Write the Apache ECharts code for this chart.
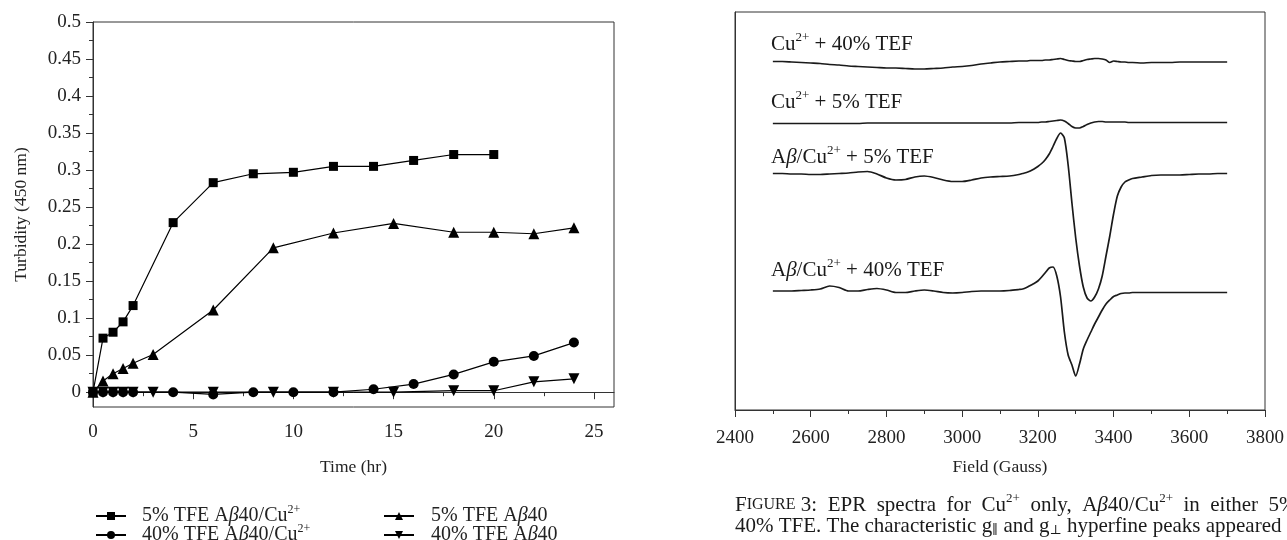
<!DOCTYPE html>
<html lang="en">
<head>
<meta charset="UTF-8">
<title>Turbidity / EPR</title>
<script src="https://cdn.jsdelivr.net/npm/echarts@6/dist/echarts.min.js"></script>
<style>
  html, body { margin: 0; padding: 0; background: #fff; }
  #main { width: 1287px; height: 540px; }
</style>
</head>
<body>
<div id="main"></div>
<script>
// --- left panel: turbidity (450 nm) vs time (hr) ---
var tSquare = [0, 0.5, 1, 1.5, 2, 4, 6, 8, 10, 12, 14, 16, 18, 20];
var ySquare = [0, 0.073, 0.081, 0.095, 0.117, 0.229, 0.283, 0.295, 0.297, 0.305, 0.305, 0.313, 0.321, 0.321];
var tUp = [0, 0.5, 1, 1.5, 2, 3, 6, 9, 12, 15, 18, 20, 22, 24];
var yUp = [0, 0.015, 0.025, 0.032, 0.039, 0.051, 0.111, 0.195, 0.215, 0.228, 0.216, 0.216, 0.214, 0.222];
var tCircle = [0, 0.5, 1, 1.5, 2, 4, 6, 8, 10, 12, 14, 16, 18, 20, 22, 24];
var yCircle = [0, 0, 0, 0, 0, 0, -0.003, 0, 0, 0, 0.004, 0.011, 0.024, 0.041, 0.049, 0.067];
var tDown = [0, 0.5, 1, 1.5, 2, 3, 6, 9, 12, 15, 18, 20, 22, 24];
var yDown = [0, 0, 0, 0, 0, 0, 0, 0, 0, 0, 0.002, 0.002, 0.014, 0.018];

var timeTicks = [0, 5, 10, 15, 20, 25];
var timeMinor = [2.5, 7.5, 12.5, 17.5, 22.5];
var turbTicks = [0, 0.05, 0.1, 0.15, 0.2, 0.25, 0.3, 0.35, 0.4, 0.45, 0.5];
var turbMinor = [0.025, 0.075, 0.125, 0.175, 0.225, 0.275, 0.325, 0.375, 0.425, 0.475];

// --- right panel: EPR spectra, stacked traces (arbitrary units) ---
var fieldG = [2500, 2525, 2550, 2575, 2600, 2625, 2650, 2675, 2700, 2725, 2750, 2775, 2800, 2825,
  2850, 2875, 2900, 2925, 2950, 2975, 3000, 3025, 3050, 3075, 3100, 3125, 3150,
  3160, 3170, 3180, 3190, 3200, 3210, 3220, 3230, 3240, 3250, 3260, 3270, 3280, 3290, 3300,
  3310, 3320, 3330, 3340, 3350, 3360, 3370, 3380, 3390, 3400, 3410, 3420, 3430, 3440, 3450,
  3475, 3500, 3525, 3550, 3575, 3600, 3625, 3650, 3675, 3700];
var eprCu40 = [350.5, 350.5, 350, 349.5, 349, 348.5, 347.5, 347, 346, 345.5, 345, 344.5, 344, 344,
  343.5, 343, 343, 343.5, 344, 345, 345.5, 346.5, 348, 349, 350, 350.5, 351,
  351, 351, 351.5, 351.5, 351.5, 351.5, 352, 352, 352.5, 353, 353.5, 352.5, 351.5, 351, 350.5,
  350.5, 351.5, 352.5, 353, 353.5, 353.5, 353, 352, 349.5, 351, 350.5, 350, 350, 349.5, 349.5,
  349, 349.5, 349.5, 349.5, 350, 350, 350, 350, 350, 350];
var eprCu5 = [288.5, 288.5, 288.5, 288.5, 288.5, 288.5, 288.5, 288.5, 288.5, 288.5, 289, 289, 289, 289,
  289, 289, 289, 289, 289, 289, 289, 289, 289, 289, 289, 289, 289.5,
  289.5, 289.5, 289.5, 289.5, 289.5, 290, 290, 290.5, 291, 291.5, 292, 291, 288.5, 285.5, 284,
  284, 285.5, 287.5, 289, 290, 290.5, 290.5, 290, 290, 290, 290, 290, 290, 289.5, 289.5,
  289.5, 289.5, 289.5, 289.5, 289.5, 289.5, 289.5, 289.5, 289.5, 289.5];
var eprAb5 = [238.5, 238.5, 238, 238, 237.5, 237.5, 238, 238.5, 239, 240, 240.5, 238, 234, 232,
  232.5, 235, 236, 234.5, 232, 230.5, 230.5, 232, 234, 235, 235.5, 236, 237.5,
  238.5, 239.5, 241, 243, 245.5, 248.5, 252.5, 258, 265.5, 273.5, 279, 274, 247, 209, 174,
  146, 125, 114, 111, 115, 123, 136, 156, 176, 198, 216, 225, 230, 232, 233.5,
  235, 236.5, 237, 237, 237, 237.5, 238, 238, 238.5, 238.5];
var eprAb40 = [121, 121, 121, 121.5, 122, 123, 126, 124.5, 121, 121, 122.5, 123.5, 122, 119.5,
  119.5, 121, 122, 121, 119.5, 119, 119.5, 120.5, 121, 121, 121, 121.5, 122.5,
  123, 124.5, 126.5, 128.5, 131, 135, 139.5, 144, 145, 136, 115, 80, 57, 47, 36,
  48, 63, 72, 80, 88, 95, 102, 108, 112, 115.5, 117, 118.5, 119, 119, 119.5,
  119.5, 119.5, 119.5, 119.5, 119.5, 119.5, 119.5, 119.5, 119.5, 119.5];
var eprLabels = ['Cu{sup|2+} + 40% TEF', 'Cu{sup|2+} + 5% TEF',
  'A{it|β}/Cu{sup|2+} + 5% TEF', 'A{it|β}/Cu{sup|2+} + 40% TEF'];

var serif = '"Liberation Serif", "DejaVu Serif", serif';
var ink = '#1a1a1a';

function richFor(size, lh) {
  var sup = Math.round(size * 0.62);
  return {
    sup: { fontSize: sup, fontFamily: serif, lineHeight: lh, padding: [0, 0, Math.round(size * 0.6), 0] },
    sub: { fontSize: sup, fontFamily: serif, lineHeight: lh, padding: [Math.round(size * 0.45), 0, 0, 0] },
    it: { fontSize: size, fontStyle: 'italic', fontFamily: serif, lineHeight: lh },
    sc: { fontSize: Math.round(size * 0.78), fontFamily: serif, lineHeight: lh }
  };
}

function plain(v) { return String(v); }

function pairs(xs, ys) {
  return xs.map(function (x, i) { return [x, ys[i]]; });
}

function turbSeries(name, xs, ys, symbol, size, rot) {
  return {
    name: name, type: 'line', xAxisIndex: 0, yAxisIndex: 0,
    data: pairs(xs, ys),
    symbol: symbol, symbolSize: size, symbolRotate: rot || 0,
    itemStyle: { color: '#000' },
    lineStyle: { color: '#000', width: 1.2 }
  };
}

function eprSeries(vals) {
  return {
    type: 'line', xAxisIndex: 1, yAxisIndex: 1,
    data: pairs(fieldG, vals),
    showSymbol: false, smooth: 0.25,
    lineStyle: { color: ink, width: 1.7 }
  };
}

// one legend per entry so the 2x2 block sits where the original has it
function legendAt(name, left, top, gap) {
  return {
    data: [name], left: left, top: top, itemWidth: 30, itemHeight: 10,
    textStyle: { fontFamily: serif, fontSize: 20, lineHeight: 20, color: '#222',
      padding: [0, 0, 0, gap], rich: richFor(20, 20) },
    formatter: function (n) {
      return n.replace('β', '{it|β}').replace('Cu2+', 'Cu{sup|2+}');
    }
  };
}

var myChart = echarts.init(document.getElementById('main'));

var labelGraphics = eprLabels.map(function (t, i) {
  var tops = [31, 89, 144, 257];
  return {
    type: 'text', left: 771, top: tops[i],
    style: { text: t, fill: ink, font: '21px ' + serif, lineHeight: 22, rich: richFor(21, 22) }
  };
});

var axisText = { fontFamily: serif, fontSize: 19, color: '#222' };
var nameText = { fontFamily: serif, fontSize: 17.5, color: '#222' };
var frame = { lineStyle: { color: '#333' } };

myChart.setOption({
  animation: false,
  grid: [
    { left: 93, top: 22, width: 521, height: 385, show: true, borderColor: '#333', borderWidth: 1 },
    { left: 735, top: 12, width: 530, height: 398, show: true, borderColor: '#333', borderWidth: 1 }
  ],
  legend: [
    legendAt('5% TFE Aβ40/Cu2+', 90, 499, 11),
    legendAt('40% TFE Aβ40/Cu2+', 90, 518, 11),
    legendAt('5% TFE Aβ40', 378, 501, 12),
    legendAt('40% TFE Aβ40', 378, 520, 12)
  ],
  xAxis: [
    {
      gridIndex: 0, type: 'value', min: 0, max: 26, interval: 5,
      name: 'Time (hr)', nameLocation: 'middle', nameGap: 51, nameTextStyle: nameText,
      axisLine: frame,
      axisTick: { length: 7, customValues: timeTicks, lineStyle: frame.lineStyle },
      axisLabel: Object.assign({ margin: 16, customValues: timeTicks, formatter: plain }, axisText),
      splitLine: { show: false }
    },
    {
      gridIndex: 1, type: 'value', min: 2400, max: 3800, interval: 200,
      name: 'Field (Gauss)', nameLocation: 'middle', nameGap: 48, nameTextStyle: nameText,
      axisLine: frame,
      axisTick: { length: 7, lineStyle: frame.lineStyle },
      minorTick: { show: true, splitNumber: 2, length: 4, lineStyle: frame.lineStyle },
      axisLabel: Object.assign({ margin: 19, formatter: plain }, axisText),
      splitLine: { show: false }
    },
    {
      // minor ticks of the time axis
      gridIndex: 0, type: 'value', min: 0, max: 26, position: 'bottom', offset: 0,
      axisLine: { show: false },
      axisTick: { length: 4, customValues: timeMinor, lineStyle: frame.lineStyle },
      axisLabel: { show: false }, splitLine: { show: false }
    }
  ],
  yAxis: [
    {
      gridIndex: 0, type: 'value', min: -0.02, max: 0.5,
      name: 'Turbidity (450 nm)', nameLocation: 'middle', nameGap: 63, nameTextStyle: nameText,
      axisLine: { show: true, lineStyle: frame.lineStyle },
      axisTick: { show: true, length: 7, customValues: turbTicks, lineStyle: frame.lineStyle },
      axisLabel: Object.assign({ margin: 12, customValues: turbTicks, formatter: plain }, axisText),
      splitLine: { show: false }
    },
    {
      gridIndex: 1, type: 'value', min: 2, max: 400,
      axisLine: { show: true, lineStyle: frame.lineStyle },
      axisTick: { show: false }, axisLabel: { show: false }, splitLine: { show: false }
    },
    {
      // minor ticks of the turbidity axis
      gridIndex: 0, type: 'value', min: -0.02, max: 0.5, position: 'left', offset: 0,
      axisLine: { show: false },
      axisTick: { show: true, length: 4, customValues: turbMinor, lineStyle: frame.lineStyle },
      axisLabel: { show: false }, splitLine: { show: false }
    }
  ],
  graphic: labelGraphics.concat([
    {
      type: 'text', left: 735, top: 492,
      style: {
        text: 'F{sc|IGURE} 3:  EPR  spectra  for  Cu{sup|2+}  only,  A{it|β}40/Cu{sup|2+}  in  either  5%  or',
        fill: ink, font: '21px ' + serif, lineHeight: 22, rich: richFor(21, 22)
      }
    },
    {
      type: 'text', left: 735, top: 515,
      style: {
        text: '40% TFE. The characteristic g{sub|∥} and g{sub|⊥} hyperfine peaks appeared in',
        fill: ink, font: '21px ' + serif, lineHeight: 22, rich: richFor(21, 22)
      }
    }
  ]),
  series: [
    turbSeries('5% TFE Aβ40/Cu2+', tSquare, ySquare, 'rect', 9),
    turbSeries('5% TFE Aβ40', tUp, yUp, 'triangle', 11),
    turbSeries('40% TFE Aβ40/Cu2+', tCircle, yCircle, 'circle', 10),
    turbSeries('40% TFE Aβ40', tDown, yDown, 'triangle', 11, 180),
    eprSeries(eprCu40),
    eprSeries(eprCu5),
    eprSeries(eprAb5),
    eprSeries(eprAb40)
  ]
});
</script>
</body>
</html>
